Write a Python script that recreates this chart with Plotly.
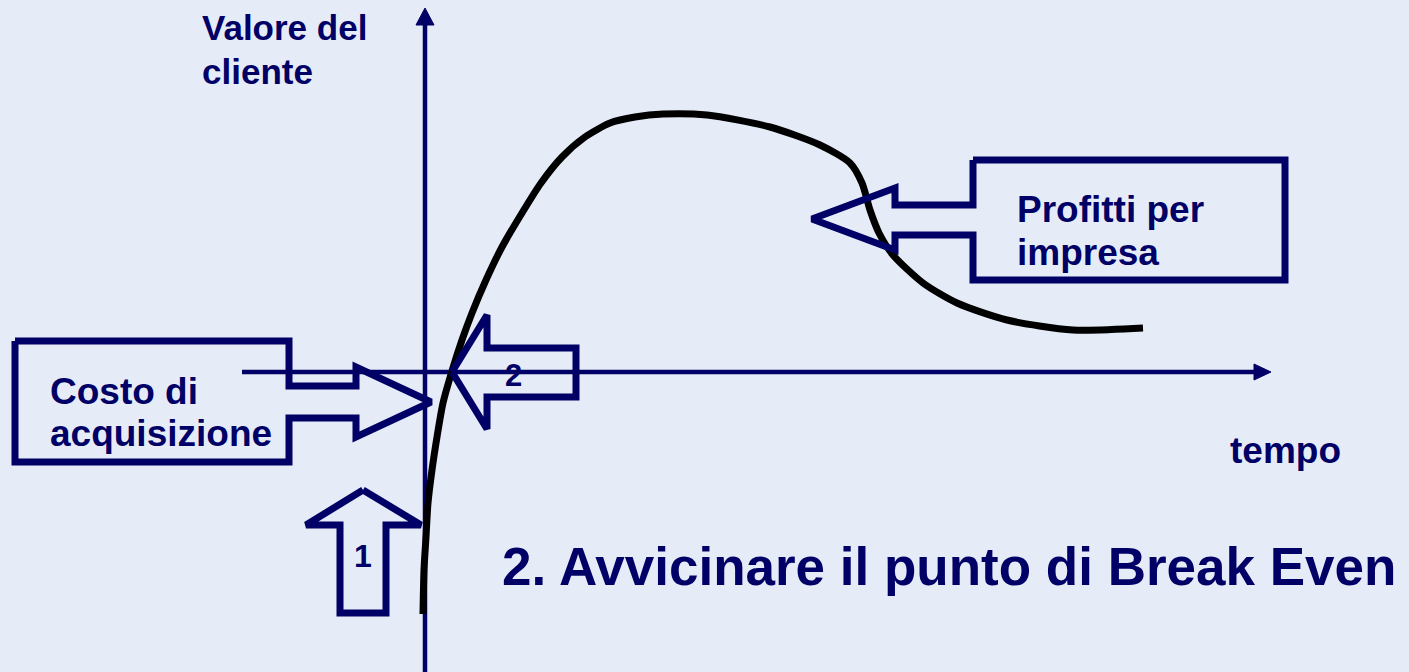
import plotly.graph_objects as go

# curva del valore del cliente (coordinate della pagina, y verso il basso)
curva_x = [423, 424, 426, 428, 432, 437, 443, 452, 462, 472, 486, 502, 522, 541, 562, 585,
           610, 635, 663, 707, 770, 820, 850, 862, 870, 879, 893, 923, 957, 1007, 1073, 1143]
curva_y = [614, 570, 537, 503, 470, 437, 403, 371, 340, 313, 280, 247, 213, 183, 157, 137,
           123, 117, 114, 115, 127, 145, 163, 183, 210, 233, 255, 283, 303, 320, 330, 328]

# assi
asse_v_x = [425, 425]
asse_v_y = [672, 20]
asse_o_x = [242, 1258]
asse_o_y = [372, 372]
punta_v_x = [416, 425, 434, 416]
punta_v_y = [25, 8, 25, 25]
punta_o_x = [1254, 1271, 1254, 1254]
punta_o_y = [364, 372, 380, 364]

# frecce-etichetta
costo_x = [15, 289, 289, 356, 356, 431, 356, 356, 289, 289, 15, 15]
costo_y = [341, 341, 386, 386, 367, 402, 437, 418, 418, 462, 462, 341]
freccia2_x = [452, 487, 487, 576, 576, 487, 487, 452]
freccia2_y = [372, 315, 348, 348, 397, 397, 429, 372]
profitti_x = [973, 1285, 1285, 973, 973, 895, 895, 812, 895, 895, 973, 973]
profitti_y = [160, 160, 280, 280, 235, 235, 250, 219, 188, 205, 205, 160]
freccia1_x = [363, 421, 386, 386, 340, 340, 306, 363]
freccia1_y = [490, 525, 525, 613, 613, 525, 525, 490]

# testi: (testo, x, y, dimensione, ancoraggio)
testi = [
    ("Valore del", 200, 27, 35, "left"),
    ("cliente", 200, 71, 35, "left"),
    ("Profitti per", 1015, 209, 37, "left"),
    ("impresa", 1015, 252, 37, "left"),
    ("Costo di", 48, 391, 37, "left"),
    ("acquisizione", 48, 433, 37, "left"),
    ("tempo", 1228, 450, 37, "left"),
    ("2", 513, 375, 31, "center"),
    ("1", 363, 556, 32, "center"),
    ("2. Avvicinare il punto di Break Even", 500, 566, 53, "left"),
]

NAVY = "#000066"
SFONDO = "#E6ECF7"

fig = go.Figure()

# assi con punte
fig.add_trace(go.Scatter(x=asse_v_x, y=asse_v_y, mode="lines",
                         line=dict(color=NAVY, width=4.5)))
fig.add_trace(go.Scatter(x=asse_o_x, y=asse_o_y, mode="lines",
                         line=dict(color=NAVY, width=4.5)))
for px_, py_ in [(punta_v_x, punta_v_y), (punta_o_x, punta_o_y)]:
    fig.add_trace(go.Scatter(x=px_, y=py_, mode="lines", fill="toself",
                             fillcolor=NAVY, line=dict(color=NAVY, width=1)))

# curva
fig.add_trace(go.Scatter(x=curva_x, y=curva_y, mode="lines",
                         line=dict(color="black", width=7, shape="spline", smoothing=0.7)))

# frecce vuote
for fx, fy in [(costo_x, costo_y), (freccia2_x, freccia2_y),
               (profitti_x, profitti_y), (freccia1_x, freccia1_y)]:
    fig.add_trace(go.Scatter(x=fx, y=fy, mode="lines",
                             line=dict(color=NAVY, width=7)))

for t, x, y, s, anc in testi:
    fig.add_annotation(x=x, y=y, text="<b>%s</b>" % t, showarrow=False,
                       xanchor=anc, yanchor="middle",
                       font=dict(family="Liberation Sans, Arial", size=s, color=NAVY))

fig.update_traces(showlegend=False, hoverinfo="skip")
fig.update_layout(width=1409, height=672, autosize=False,
                  margin=dict(l=0, r=0, t=0, b=0),
                  plot_bgcolor=SFONDO, paper_bgcolor=SFONDO)
fig.update_xaxes(range=[0, 1409], visible=False)
fig.update_yaxes(range=[672, 0], visible=False)

# niente margine della pagina, così il grafico parte da (0, 0)
fig.write_html("out.html", config={"displayModeBar": False},
               post_script="document.body.style.margin='0';"
                           "document.body.style.overflow='hidden';"
                           "document.body.style.background='%s';" % SFONDO)
